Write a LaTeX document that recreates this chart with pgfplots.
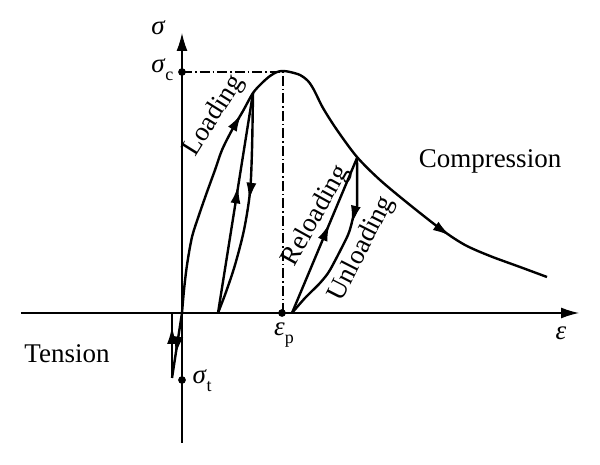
\documentclass[border=0pt]{standalone}
\usepackage{fontspec}
\setmainfont{Liberation Serif}
\usepackage{pgfplots}
\pgfplotsset{compat=1.18}
\usetikzlibrary{arrows.meta,decorations.markings}
\newcommand\sub[1]{\raisebox{-0.3em}{\fontsize{18}{20}\selectfont #1}}
\tikzset{
  midarrow/.style={postaction={decorate,decoration={markings,mark=at position #1 with {\arrow{Latex[length=18pt,width=10pt]}}}}},
  twoarrows/.style 2 args={postaction={decorate,decoration={markings,
      mark=at position #1 with {\arrow{Latex[length=18pt,width=10pt]}},
      mark=at position #2 with {\arrow{Latex[length=18pt,width=10pt]}}}}},
}
\begin{document}
\begin{tikzpicture}
\begin{axis}[
  x=1pt,y=1pt,
  xmin=-161,xmax=397,ymin=-130,ymax=280,
  axis lines=middle,
  axis line style={line width=1.3pt,-{Latex[length=18pt,width=11pt]}},
  xtick=\empty,ytick=\empty,
  clip=false,
  font=\fontsize{27}{30}\selectfont,
]
% dash-dot guides
\addplot[line width=1.1pt, dash pattern=on 10pt off 3pt on 1.5pt off 3pt] coordinates {(0,241) (101,241) (101,0)};
% envelope curve
\addplot[line width=2.4pt, smooth, tension=0.5, twoarrows={0.34}{0.83}] coordinates {
 (0,0) (2,23) (5,48) (10,76) (17,98) (25,121) (33,143) (40,163) (50,183) (61,202) (71,220) (80,230) (88,237) (95,241) (101,242)
 (108,241) (118,238) (126,232) (132,223) (141,205) (155,183) (175,156) (198,133) (228,108) (260,83) (283,68) (308,57) (338,46) (365,36)};
% loop 1
\addplot[line width=2.4pt, midarrow=0.58] coordinates {(36,0) (71,220)};
\addplot[line width=2.4pt, smooth, tension=0.5, midarrow=0.48] coordinates {(71,220) (70,163) (68,121) (62,83) (53,48) (44,21) (36,0)};
% loop 2
\addplot[line width=2.4pt, midarrow=0.58] coordinates {(110,0) (175,155)};
\addplot[line width=2.4pt, smooth, tension=0.4, midarrow=0.38] coordinates {(175,155) (175,106) (171,95) (166,78) (148,43) (138,30) (123,15) (110,0)};
% tension
\addplot[line width=2.4pt] coordinates {(-126,0) (-10,0)};
\addplot[line width=2.4pt, midarrow=0.64] coordinates {(0,0) (-10,-65)};
\addplot[line width=2.4pt, midarrow=0.8] coordinates {(-10,-65) (-10,0)};
% dots
\addplot[only marks, mark=*, mark size=3.6pt, black] coordinates {(0,241) (0,-67) (100,0)};
% labels
\node at (axis cs:-24,285) {\itshape σ};
\node[anchor=east] at (axis cs:-5,243) {\itshape σ\/\upshape\sub{c}};
\node[anchor=west] at (axis cs:7,-68) {\itshape σ\/\upshape\sub{t}};
\node at (axis cs:102,-22) {\itshape ε\/\upshape\sub{p}};
\node at (axis cs:379,-20) {\itshape ε};
\node[anchor=base] at (axis cs:-115,-50) {Tension};
\node[anchor=base] at (axis cs:308,145) {Compression};
\node[rotate=58] at (axis cs:32,197) {Loading};
\node[rotate=61] at (axis cs:134,97) {Reloading};
\node[rotate=63] at (axis cs:180,64) {Unloading};
\coordinate (bl) at (axis cs:-182,-152);
\coordinate (tr) at (axis cs:418,313);
\end{axis}
\pgfresetboundingbox
\useasboundingbox (bl) rectangle (tr);
\end{tikzpicture}
\end{document}
